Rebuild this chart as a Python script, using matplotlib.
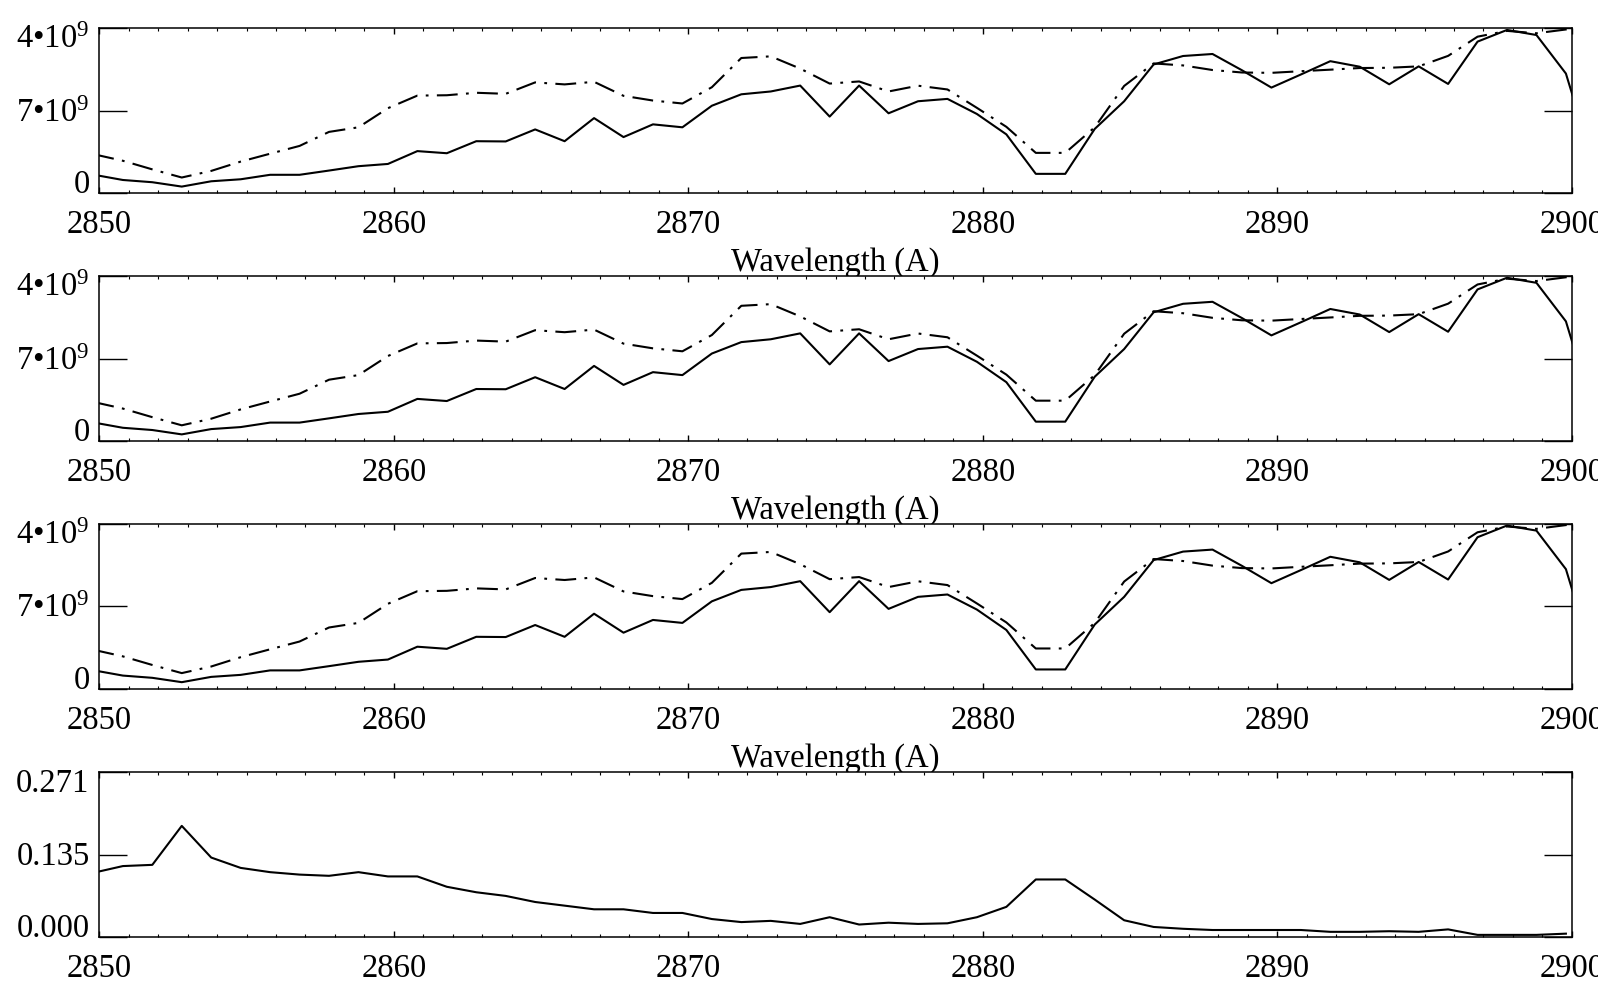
import numpy as np
import matplotlib
matplotlib.use('Agg')
import matplotlib.pyplot as plt
from matplotlib.ticker import MultipleLocator, FixedLocator
from matplotlib.transforms import ScaledTranslation
from matplotlib.patches import Rectangle

plt.rcParams['font.family'] = 'Liberation Serif'
plt.rcParams['mathtext.fontset'] = 'custom'
plt.rcParams['mathtext.rm'] = 'Liberation Serif'
plt.rcParams['mathtext.it'] = 'Liberation Serif:italic'
plt.rcParams['mathtext.bf'] = 'Liberation Serif:bold'
plt.rcParams['font.size'] = 23.5
plt.rcParams['lines.scale_dashes'] = False

# wavelength grid (A), sampled 0.2 A below the integer marks
wave = np.round(2849.8 + np.arange(52), 1)

# observed flux, units of 1e9
flux_obs = np.array([
    1.58, 1.13, 0.94, 0.57, 1.02, 1.19, 1.57, 1.57, 1.93, 2.30,
    2.49, 3.58, 3.40, 4.42, 4.40, 5.42, 4.42, 6.38, 4.77, 5.85,
    5.60, 7.43, 8.40, 8.64, 9.14, 6.51, 9.14, 6.79, 7.81, 8.01,
    6.73, 5.00, 1.65, 1.65, 5.46, 7.81, 10.93, 11.65, 11.82, 10.44,
    8.97, 10.08, 11.21, 10.74, 9.25, 10.77, 9.28, 12.87, 13.86, 13.43,
    10.16, 1.96]) * 1e9

# model flux, units of 1e9
flux_model = np.array([
    3.32, 2.76, 2.03, 1.34, 1.90, 2.69, 3.36, 4.02, 5.21, 5.60,
    7.22, 8.29, 8.32, 8.53, 8.44, 9.41, 9.24, 9.46, 8.27, 7.87,
    7.62, 9.00, 11.48, 11.62, 10.58, 9.31, 9.49, 8.64, 9.13, 8.81,
    7.25, 5.64, 3.43, 3.43, 5.60, 9.11, 11.02, 10.85, 10.46, 10.25,
    10.22, 10.36, 10.49, 10.63, 10.65, 10.77, 11.66, 13.29, 13.78, 13.58,
    13.90, 14.14]) * 1e9

# relative difference
ratio = np.array([
    0.105, 0.116, 0.118, 0.182, 0.130, 0.113, 0.106, 0.102, 0.100, 0.106,
    0.099, 0.099, 0.082, 0.073, 0.067, 0.057, 0.051, 0.045, 0.045, 0.039,
    0.039, 0.029, 0.024, 0.026, 0.021, 0.032, 0.020, 0.023, 0.021, 0.022,
    0.032, 0.049, 0.094, 0.094, 0.061, 0.027, 0.016, 0.013, 0.011, 0.011,
    0.011, 0.011, 0.008, 0.008, 0.009, 0.008, 0.012, 0.003, 0.003, 0.003,
    0.005])

flux_ticks = [0, 7e9, 1.4e10]
flux_labels = ['0', '7\u2022' + '10$^9$', '4\u2022' + '10$^9$']
ratio_ticks = [0.0, 0.135, 0.271]
ratio_labels = ['0.000', '0.135', '0.271']

W, H = 1612, 983
fig = plt.figure(figsize=(W / 100, H / 100), dpi=100)

left, right = 99.3, 1571.8
tops = [28.3, 276.1, 523.9, 771.7]
ph = 165.0


def style_axes(ax, yticks, ylabels, ylim):
    ax.set_xlim(2850, 2900)
    ax.set_ylim(*ylim)
    ax.xaxis.set_major_locator(FixedLocator([2850, 2860, 2870, 2880, 2890, 2900]))
    ax.xaxis.set_minor_locator(MultipleLocator(1))
    ax.set_yticks(yticks)
    ax.set_yticklabels(ylabels)
    for s in ax.spines.values():
        s.set_linewidth(1.1)
    ax.tick_params(axis='x', which='major', direction='in', top=True,
                   length=4.5, width=1, pad=12)
    ax.tick_params(axis='x', which='minor', direction='in', top=True,
                   length=2, width=0.8)
    ax.tick_params(axis='y', which='major', direction='in', right=True,
                   length=20, width=1, pad=7)
    # IDL-style placement: end labels pulled inside the axis range
    shifts = [0, -7.9, -14.4]
    for lab, dy in zip(ax.get_yticklabels(), shifts):
        lab.set_va('baseline')
        lab.set_transform(lab.get_transform() +
                          ScaledTranslation(0, dy / 72, fig.dpi_scale_trans))


for i in range(3):
    ax = fig.add_axes([left / W, 1 - (tops[i] + ph) / H, (right - left) / W, ph / H])
    ax.plot(wave, flux_obs, color='k', lw=1.5)
    ax.plot(wave, flux_model, color='k', lw=1.5, dashes=(15, 6, 2, 6))
    style_axes(ax, flux_ticks, flux_labels, (0, 1.4e10))
    ax.set_xlabel('Wavelength (A)', labelpad=5)

ax = fig.add_axes([left / W, 1 - (tops[3] + ph) / H, (right - left) / W, ph / H])
ax.plot(wave[:-1], ratio, color='k', lw=1.5)
style_axes(ax, ratio_ticks, ratio_labels, (0, 0.271))

# the right-most tick label runs off the page edge
fig.add_artist(Rectangle((1598 / W, 0), 14 / W, 1, transform=fig.transFigure,
                         facecolor='white', edgecolor='none', zorder=10))

fig.savefig('out.png', dpi=100, facecolor='white')
